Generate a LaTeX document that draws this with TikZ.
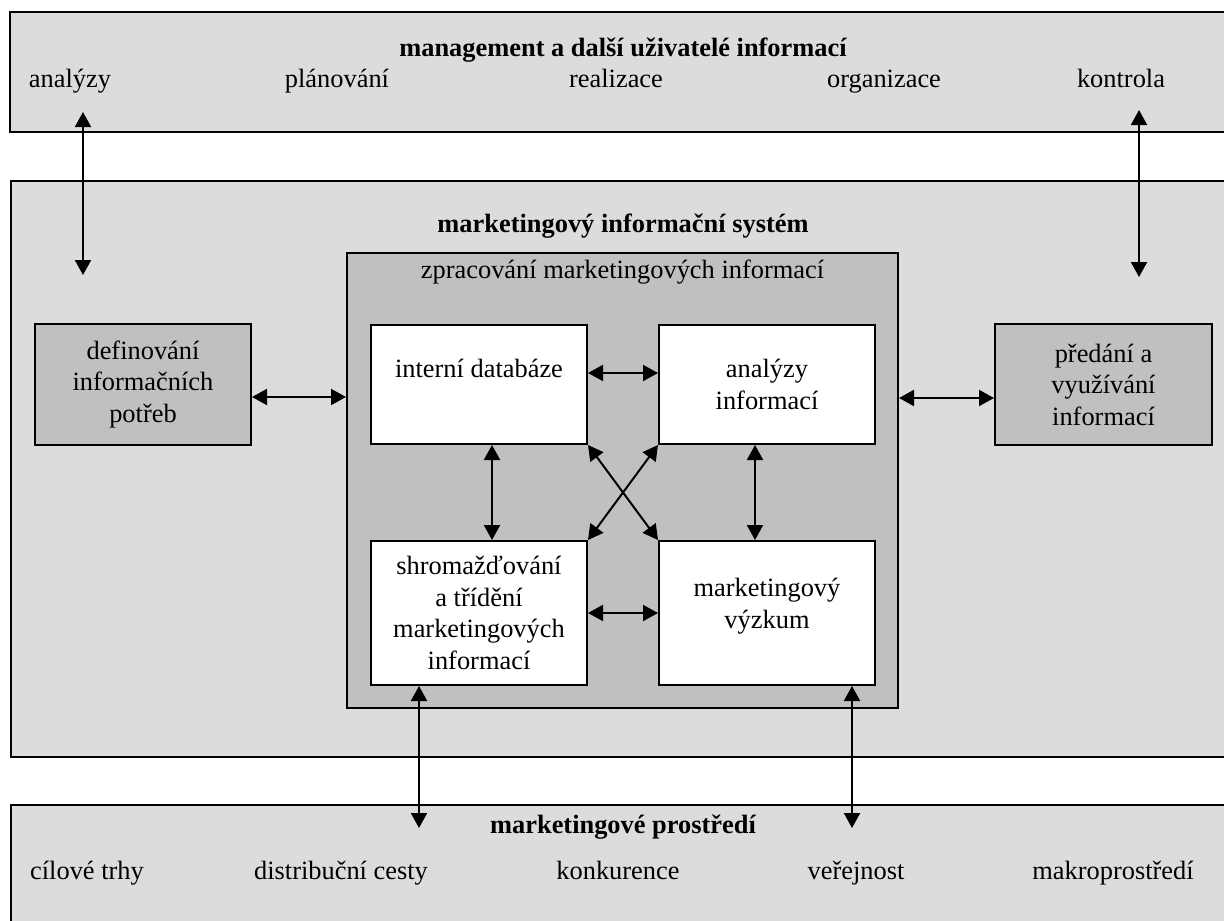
\documentclass[tikz,border=0pt]{standalone}
\usepackage{fontspec}
\setmainfont{Liberation Serif}
\usetikzlibrary{arrows.meta,positioning,calc}
\definecolor{LG}{HTML}{DCDCDC}
\definecolor{MG}{HTML}{C0C0C0}

\tikzset{
  outerbox/.style={draw, line width=1pt, fill=LG, inner sep=0pt},
  greybox/.style={draw, line width=1pt, fill=MG, inner sep=0pt, align=center},
  whitebox/.style={draw, line width=1pt, fill=white, inner sep=0pt, align=center,
                   minimum width=108pt},
  lbl/.style={inner sep=0pt, anchor=base},
  biarrow/.style={{Triangle[length=7.5pt,width=8pt]}-{Triangle[length=7.5pt,width=8pt]},
                  line width=1pt}
}

\begin{document}
\begin{tikzpicture}[x=0.5pt, y=-0.5pt, font=\fontsize{13.2}{15.75}\selectfont]
  \useasboundingbox (0,0) rectangle (1224,920);
  \clip (0,0) rectangle (1224,920);

  % three horizontal bands
  \node[outerbox, minimum width=615pt, minimum height=60pt] (mgmt) at (625,72) {};
  \node[outerbox, minimum width=614.5pt, minimum height=288pt] (mis) at (625.5,469) {};
  \node[outerbox, minimum width=614.5pt, minimum height=67.5pt] (env) at (625.5,872.5) {};

  % management
  \node[lbl, font=\fontsize{13.2}{15.75}\selectfont\bfseries] (mgmtTitle) at (623,57)
    {management a další uživatelé informací};
  \node[lbl] (mAna)  at (70,88)   {analýzy};
  \node[lbl] (mPlan) at (337,88)  {plánování};
  \node[lbl] (mReal) at (616,88)  {realizace};
  \node[lbl] (mOrg)  at (884,88)  {organizace};
  \node[lbl] (mCtrl) at (1121,88) {kontrola};

  % marketing information system
  \node[lbl, font=\fontsize{13.2}{15.75}\selectfont\bfseries] (misTitle) at (623,232)
    {marketingový informační systém};
  \node[greybox, minimum width=275.5pt, minimum height=227.5pt] (proc) at (622.5,480.5) {};
  \node[lbl] (procTitle) at (622.5,278) {zpracování marketingových informací};

  \node[greybox, minimum width=108pt, minimum height=60.5pt] (def) at (143,384.5)
    {definování\\informačních\\potřeb};
  \node[greybox, minimum width=108.5pt, minimum height=60.5pt] (give) at (1103.5,384.5)
    {předání a\\využívání\\informací};

  \node[whitebox, minimum height=59.5pt] (db)  at (479,384.5) {interní databáze\\\phantom{informací}};
  \node[whitebox, minimum height=59.5pt] (ana) at (767,384.5) {analýzy\\informací};
  \node[whitebox, minimum height=72pt]   (col) at (479,613)
    {shromažďování\\a třídění\\marketingových\\informací};
  \node[whitebox, minimum height=72pt]   (res) at (767,613) {marketingový\\výzkum\\[-6pt]\mbox{}};

  % marketing environment
  \node[lbl, font=\fontsize{13.2}{15.75}\selectfont\bfseries] (envTitle) at (623,833)
    {marketingové prostředí};
  \node[lbl] (eCil)   at (87,879)   {cílové trhy};
  \node[lbl] (eDist)  at (341,879)  {distribuční cesty};
  \node[lbl] (eKonk)  at (618,879)  {konkurence};
  \node[lbl] (eVer)   at (856,879)  {veřejnost};
  \node[lbl] (eMakro) at (1113,879) {makroprostředí};

  % free ends
  \coordinate (tipAnaUp)   at (83,112);
  \coordinate (tipAnaDown) at (83,275);
  \coordinate (tipCtrlUp)   at (1139,110);
  \coordinate (tipCtrlDown) at (1139,277);
  \coordinate (tipColEnv) at (419,828);
  \coordinate (tipResEnv) at (852,828);

  % connectors
  \draw[biarrow] (tipAnaUp) -- (tipAnaDown);
  \draw[biarrow] (tipCtrlUp) -- (tipCtrlDown);
  \draw[biarrow] ([yshift=-6.25pt]def.east) -- ([yshift=-6.25pt]def.east -| proc.west);
  \draw[biarrow] ([yshift=-6.75pt]give.west -| proc.east) -- ([yshift=-6.75pt]give.west);
  \draw[biarrow] ([yshift=5.75pt]db.east) -- ([yshift=5.75pt]ana.west);
  \draw[biarrow] (col.east) -- (res.west);
  \draw[biarrow] ([xshift=6.5pt]db.south) -- ([xshift=6.5pt]db.south |- col.north);
  \draw[biarrow] ([xshift=-6pt]ana.south) -- ([xshift=-6pt]ana.south |- res.north);
  \draw[biarrow] (db.south east) -- (res.north west);
  \draw[biarrow] (ana.south west) -- (col.north east);
  \draw[biarrow] (col.south -| tipColEnv) -- (tipColEnv);
  \draw[biarrow] (res.south -| tipResEnv) -- (tipResEnv);
\end{tikzpicture}
\end{document}
